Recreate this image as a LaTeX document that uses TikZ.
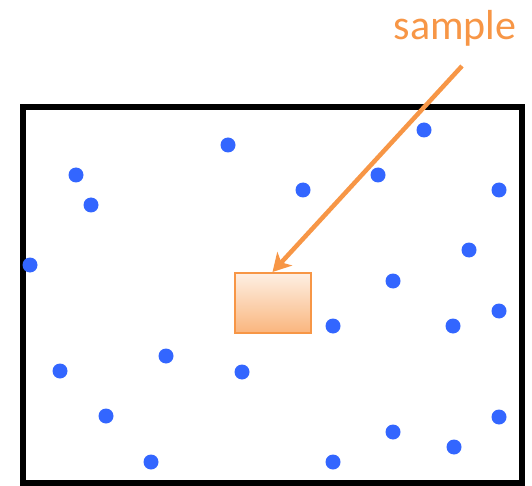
\documentclass[tikz,border=0pt]{standalone}
\usepackage{fontspec}
\setmainfont{Carlito}
\usetikzlibrary{arrows.meta}
\definecolor{dotblue}{RGB}{51,102,255}
\definecolor{offorange}{RGB}{247,150,70}
\tikzset{
  dot/.style={circle, fill=dotblue, inner sep=0pt, minimum size=15pt},
  samplebox/.style={draw=offorange, line width=2pt, top color=offorange!15, bottom color=offorange!70, minimum width=76pt, minimum height=60pt, inner sep=0pt}
}
\begin{document}
\begin{tikzpicture}[x=1pt, y=-1pt]
  \useasboundingbox (0,0) rectangle (532,486);
  % population
  \draw[line width=6pt] (23,107) rectangle (522,483);

  \foreach \x/\y [count=\i] in {228/145, 424/130, 76/175, 303/190, 378/175, 499/190, 91/205,
      469/250, 30/265, 393/281, 333/326, 453/326, 499/311, 166/356, 60/371, 242/372,
      106/416, 393/432, 454/447, 499/417, 151/462, 333/462} {
    \node[dot] (d\i) at (\x,\y) {};
  }

  % sample
  \node[samplebox] (box) at (272.5,303) {};
  \node[text=offorange, font=\fontsize{42}{50}\selectfont] (lbl) at (455,28) {sample};
  \coordinate (tail) at (462,66);
  \draw[offorange, line width=4.5pt, -{Stealth[length=18pt, width=20pt, inset=5pt]}] (tail) -- (box.north);
\end{tikzpicture}
\end{document}
